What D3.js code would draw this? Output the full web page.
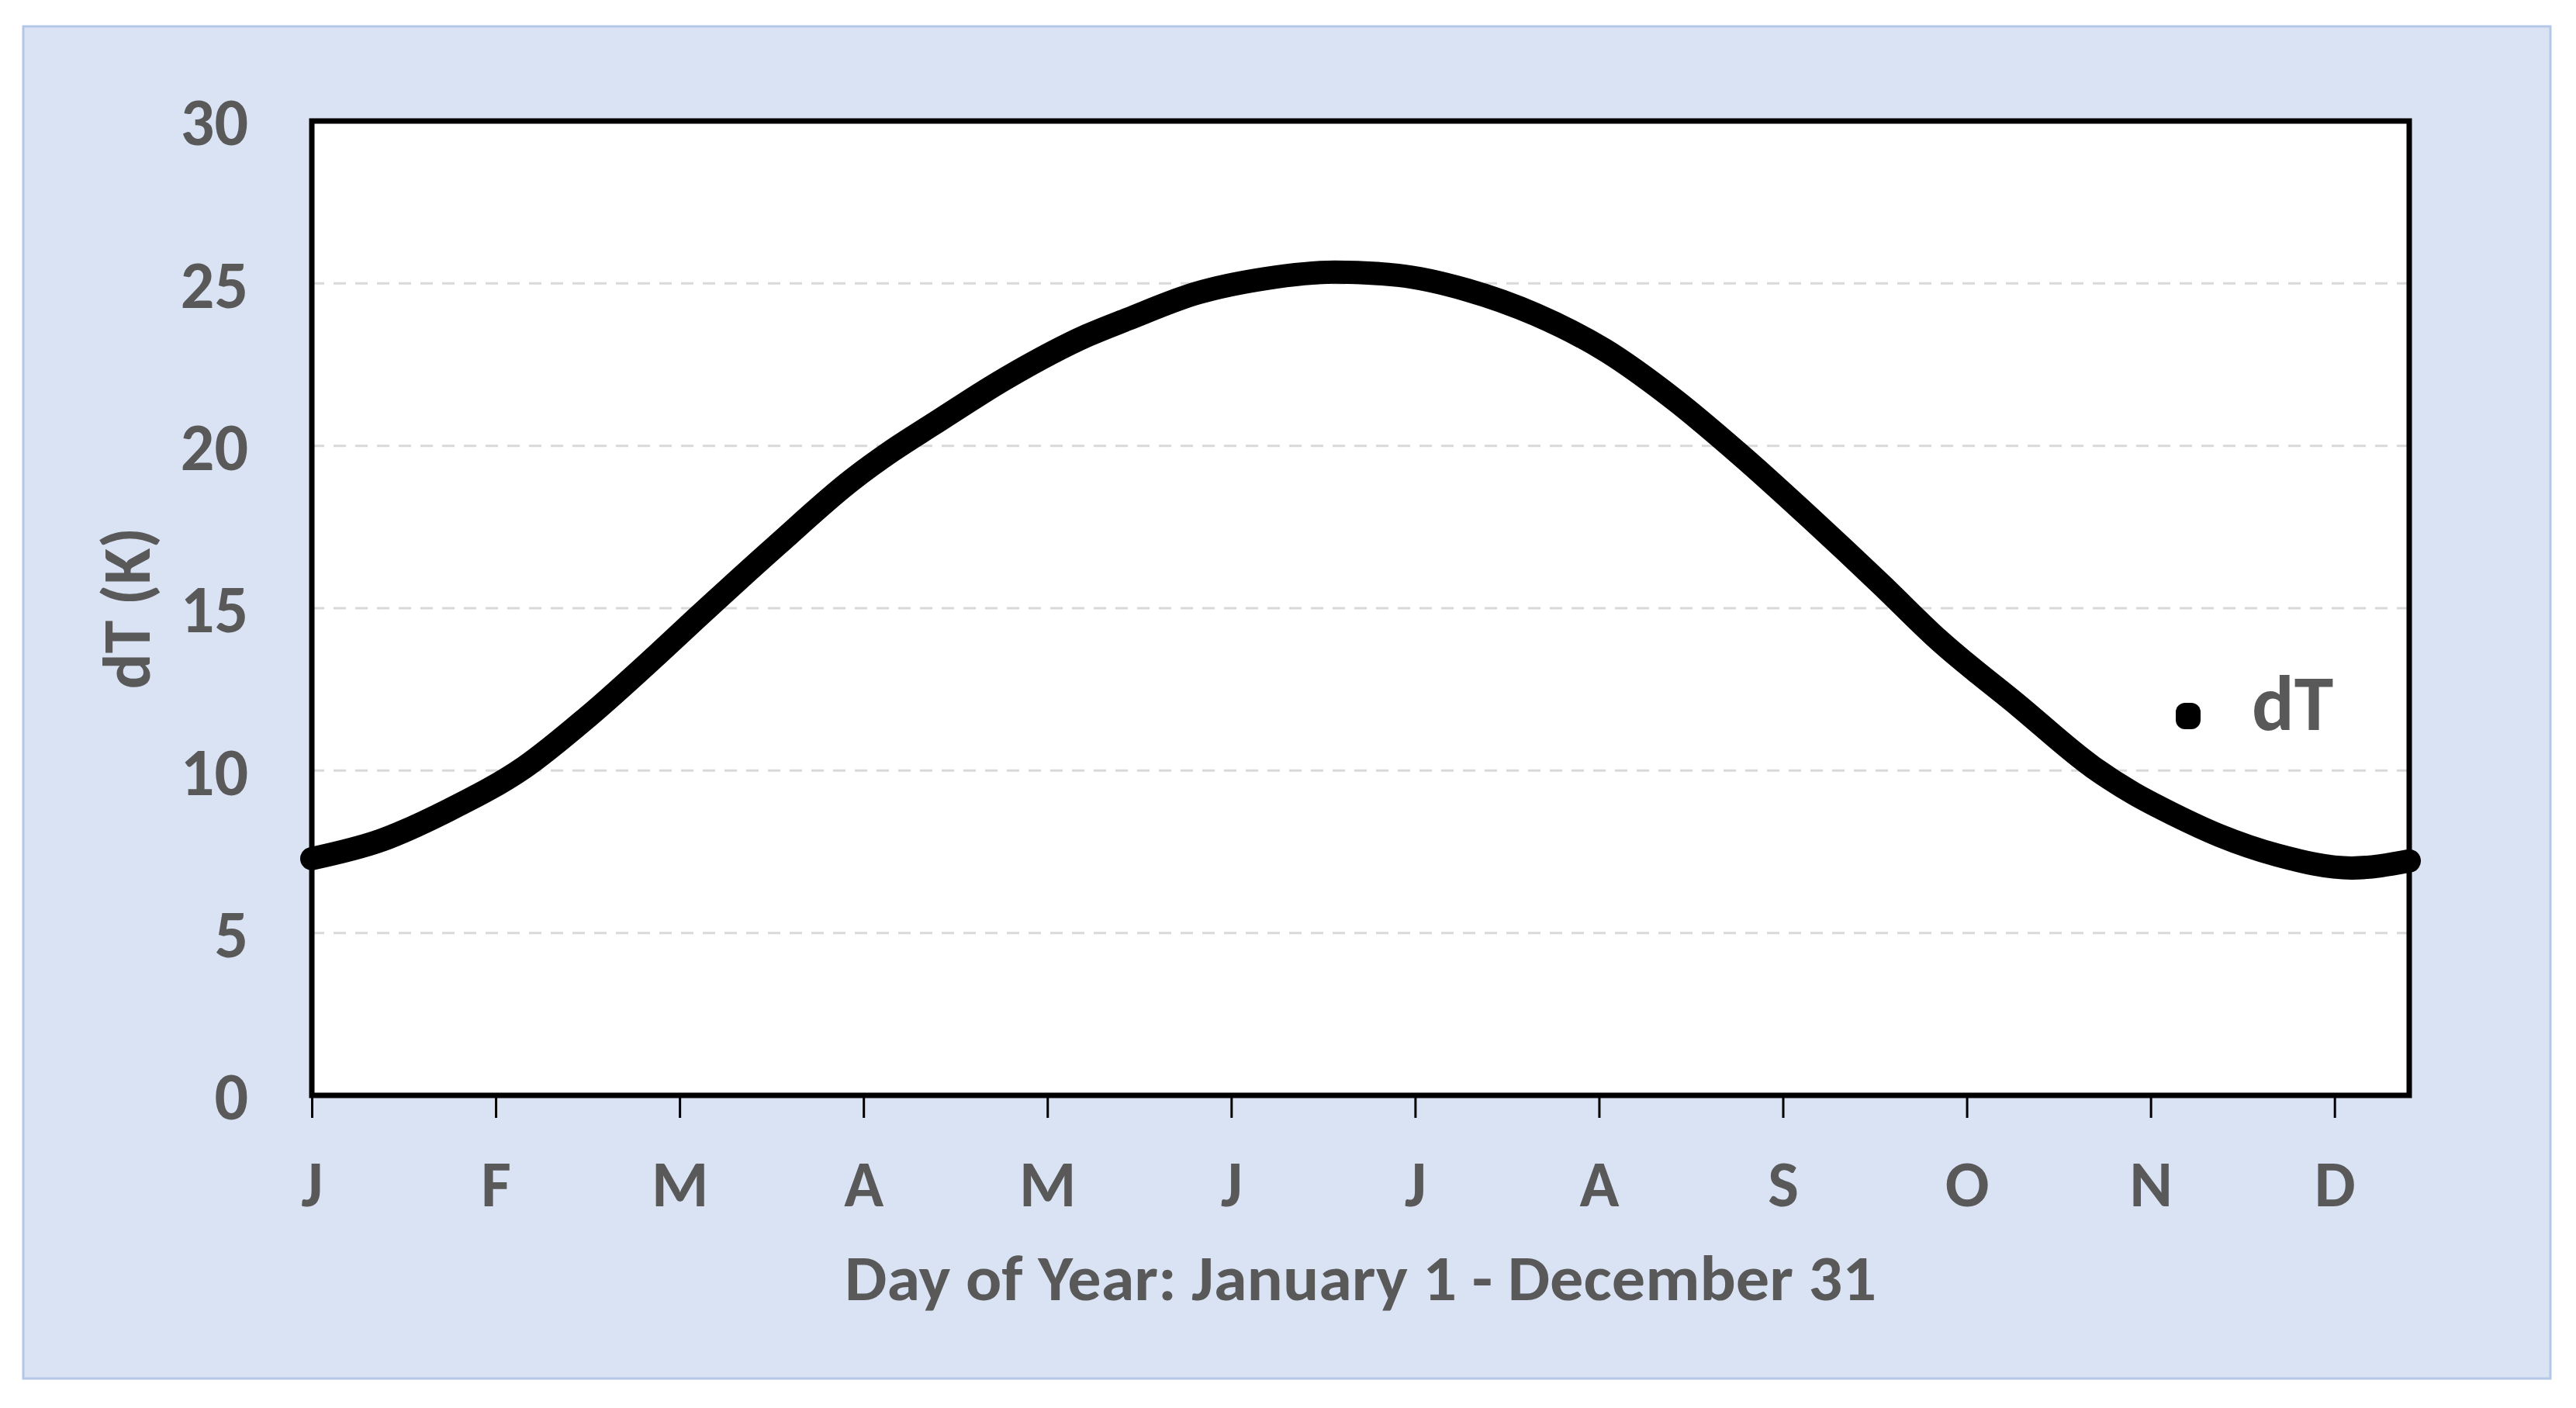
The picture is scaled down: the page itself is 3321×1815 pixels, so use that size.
<!DOCTYPE html>
<html>
<head>
<meta charset="utf-8">
<script src="https://cdn.jsdelivr.net/npm/d3@7"></script>
<style>
  html, body { margin: 0; padding: 0; background: #ffffff; }
  svg { display: block; }
</style>
</head>
<body>
<script>
// ---- Data ----
const days = [0, 12, 24, 37, 48, 60, 67, 81, 94, 101, 108, 121, 135, 142, 154, 166, 178, 189, 201, 213, 225, 237, 249, 261, 273, 283, 297, 310, 317, 324, 332, 342, 355, 365];
const dTValues = [7.29, 7.85, 8.8, 10.1, 11.65, 13.55, 14.7, 16.95, 18.95, 19.85, 20.65, 22.1, 23.4, 23.9, 24.7, 25.15, 25.35, 25.25, 24.8, 24.04, 22.95, 21.44, 19.66, 17.74, 15.75, 14.04, 12.0, 10.1, 9.3, 8.65, 8.0, 7.4, 7.0, 7.22];
const monthTicks = [0, 32, 64, 96, 128, 160, 192, 224, 256, 288, 320, 352];
const monthLabels = ["J", "F", "M", "A", "M", "J", "J", "A", "S", "O", "N", "D"];
const yTicks = [0, 5, 10, 15, 20, 25, 30];
const yGrid = [5, 10, 15, 20, 25];
const seriesName = "dT";
const xTitle = "Day of Year: January 1 - December 31";
const yTitle = "dT (K)";

// ---- Layout ----
const W = 3321, H = 1815;
const L = 402, R = 3106, T = 156, B = 1412;
const FONT = "Carlito, Lato, 'Open Sans', sans-serif";
const TXT = "#595959";

const svg = d3.select("body").append("svg").attr("width", W).attr("height", H);

// outer panel
svg.append("rect")
  .attr("x", 30).attr("y", 34).attr("width", 3258).attr("height", 1743)
  .attr("fill", "#dae3f3").attr("stroke", "#b4c7e7").attr("stroke-width", 3);

const x = d3.scaleLinear().domain([0, 365]).range([L, R]);
const y = d3.scaleLinear().domain([0, 30]).range([B, T]);

// plot area
svg.append("rect")
  .attr("x", L).attr("y", T).attr("width", R - L).attr("height", B - T)
  .attr("fill", "#ffffff");

// grid lines
svg.append("g").selectAll("line").data(yGrid).join("line")
  .attr("x1", L).attr("x2", R)
  .attr("y1", d => y(d)).attr("y2", d => y(d))
  .attr("stroke", "#d9d9d9").attr("stroke-width", 3)
  .attr("stroke-dasharray", "16,12");

// x axis
const gx = svg.append("g").attr("transform", `translate(0,${B})`)
  .call(d3.axisBottom(x).tickValues(monthTicks)
    .tickFormat((d, i) => monthLabels[i]).tickSize(29).tickPadding(54));
gx.select(".domain").remove();
gx.selectAll(".tick line").attr("stroke", "#000").attr("stroke-width", 3);
gx.selectAll(".tick text")
  .attr("fill", TXT).attr("font-family", FONT).attr("font-weight", "bold")
  .attr("font-size", 84);

// y axis
const gy = svg.append("g").attr("transform", `translate(${L},0)`)
  .call(d3.axisLeft(y).tickValues(yTicks).tickSize(0).tickPadding(82));
gy.select(".domain").remove();
gy.selectAll(".tick text")
  .attr("fill", TXT).attr("font-family", FONT).attr("font-weight", "bold")
  .attr("font-size", 86).attr("dy", "0.36em");

// frame
svg.append("rect")
  .attr("x", L).attr("y", T).attr("width", R - L).attr("height", B - T)
  .attr("fill", "none").attr("stroke", "#000").attr("stroke-width", 7);

// data curve
const pts = days.map((d, i) => [d, dTValues[i]]);
svg.append("path")
  .datum(pts)
  .attr("d", d3.line().x(d => x(d[0])).y(d => y(d[1])).curve(d3.curveMonotoneX))
  .attr("fill", "none").attr("stroke", "#000").attr("stroke-width", 30)
  .attr("stroke-linecap", "round").attr("stroke-linejoin", "round");

// axis titles
svg.append("text")
  .attr("x", (L + R) / 2).attr("y", 1676)
  .attr("text-anchor", "middle")
  .attr("fill", TXT).attr("font-family", FONT).attr("font-weight", "bold")
  .attr("font-size", 83)
  .attr("textLength", 1330).attr("lengthAdjust", "spacingAndGlyphs")
  .text(xTitle);

svg.append("text")
  .attr("transform", `translate(193,${(T + B) / 2}) rotate(-90)`)
  .attr("text-anchor", "middle")
  .attr("fill", TXT).attr("font-family", FONT).attr("font-weight", "bold")
  .attr("font-size", 86)
  .text(yTitle);

// legend
svg.append("rect")
  .attr("x", 2821 - 16).attr("y", 923 - 17).attr("width", 32).attr("height", 34)
  .attr("rx", 12).attr("ry", 12).attr("fill", "#000");
svg.append("text")
  .attr("x", 2903).attr("y", 941)
  .attr("fill", TXT).attr("font-family", FONT).attr("font-weight", "bold")
  .attr("font-size", 102)
  .text(seriesName);
</script>
</body>
</html>
